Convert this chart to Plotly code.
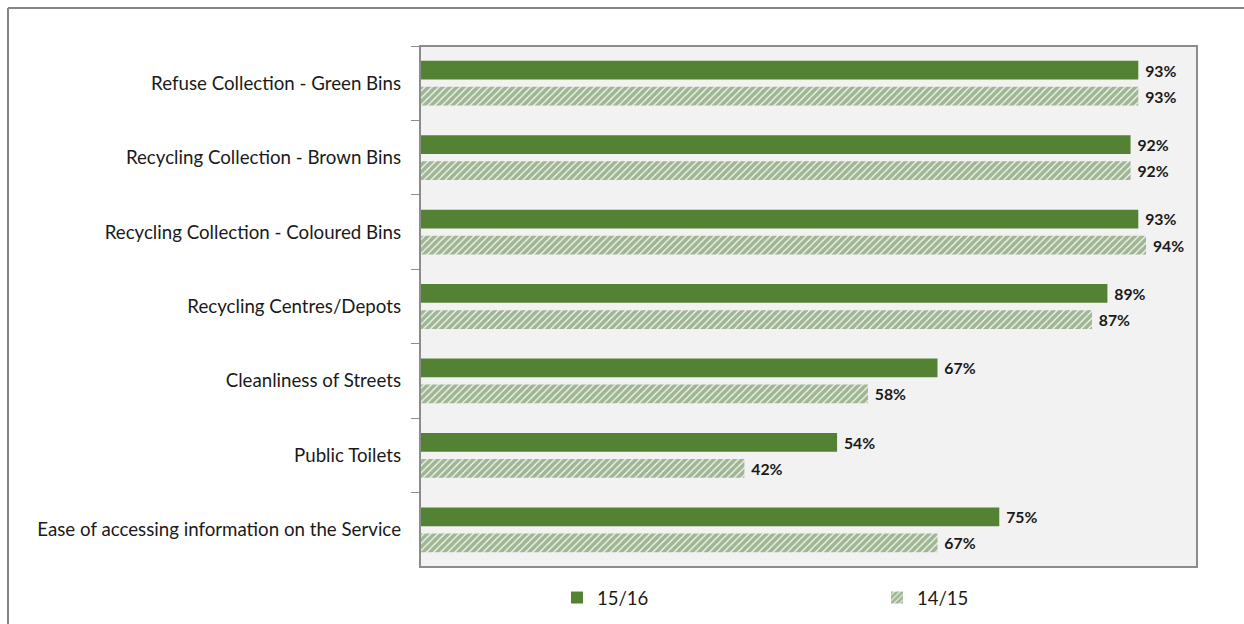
import plotly.graph_objects as go

categories = [
    "Refuse Collection - Green Bins",
    "Recycling Collection - Brown Bins",
    "Recycling Collection - Coloured Bins",
    "Recycling Centres/Depots",
    "Cleanliness of Streets",
    "Public Toilets",
    "Ease of accessing information on the Service",
]
series_1516 = [93, 92, 93, 89, 67, 54, 75]
series_1415 = [93, 92, 94, 87, 58, 42, 67]
series_names = ["15/16", "14/15"]

GREEN = "#548235"
FONT = "Lato"

W, H = 1244, 624
L, R, T, B = 420, 47, 46, 57
pw, ph = W - L - R, H - T - B


def px_x(p):
    return (p - L) / pw


def px_y(p):
    return 1 - (p - T) / ph


label_font = dict(family=FONT, size=16, color="#1a1a1a", weight="bold")

fig = go.Figure()
fig.add_trace(go.Bar(
    y=categories, x=series_1516, name=series_names[0], orientation="h",
    marker=dict(color=GREEN, line=dict(width=0)),
    texttemplate="\u00a0%{x}%", textposition="outside", cliponaxis=False,
    textfont=label_font,
))
fig.add_trace(go.Bar(
    y=categories, x=series_1415, name=series_names[1], orientation="h",
    marker=dict(color="white", line=dict(width=0),
                pattern=dict(shape="/", fgcolor="#44742a", bgcolor="#f8f8f8",
                             size=5, solidity=0.75)),
    texttemplate="\u00a0%{x}%", textposition="outside", cliponaxis=False,
    textfont=label_font,
))

# outer chart frame (top and left edges) and plot-area border
fig.add_shape(type="line", xref="paper", yref="paper",
              x0=px_x(8), x1=px_x(1260), y0=px_y(8), y1=px_y(8),
              line=dict(color="#858585", width=2))
fig.add_shape(type="line", xref="paper", yref="paper",
              x0=px_x(8), x1=px_x(8), y0=px_y(8), y1=px_y(640),
              line=dict(color="#858585", width=2))
fig.add_shape(type="rect", xref="paper", yref="paper",
              x0=0, x1=1, y0=0, y1=1,
              line=dict(color="#8c8c8c", width=2))

fig.update_layout(
    width=W, height=H,
    margin=dict(l=L, r=R, t=T, b=B, autoexpand=False),
    paper_bgcolor="white", plot_bgcolor="#f2f2f2",
    barmode="group", bargap=0.3, bargroupgap=0.28,
    font=dict(family=FONT, size=18.7, color="#1a1a1a"),
    xaxis=dict(range=[0, 100.6], showgrid=False, showticklabels=False,
               zeroline=False, showline=False, fixedrange=True),
    yaxis=dict(autorange="reversed", showgrid=False, tickson="boundaries",
               ticks="outside", ticklen=8, tickcolor="#8c8c8c", tickwidth=1,
               ticklabelstandoff=18, showline=False),
    legend=dict(orientation="h", x=px_x(557), xanchor="left",
                y=px_y(598), yanchor="middle",
                entrywidth=275, entrywidthmode="pixels",
                font=dict(family=FONT, size=18.5), itemwidth=30,
                bgcolor="rgba(0,0,0,0)"),
    showlegend=True,
)

fig.write_html("out.html")
